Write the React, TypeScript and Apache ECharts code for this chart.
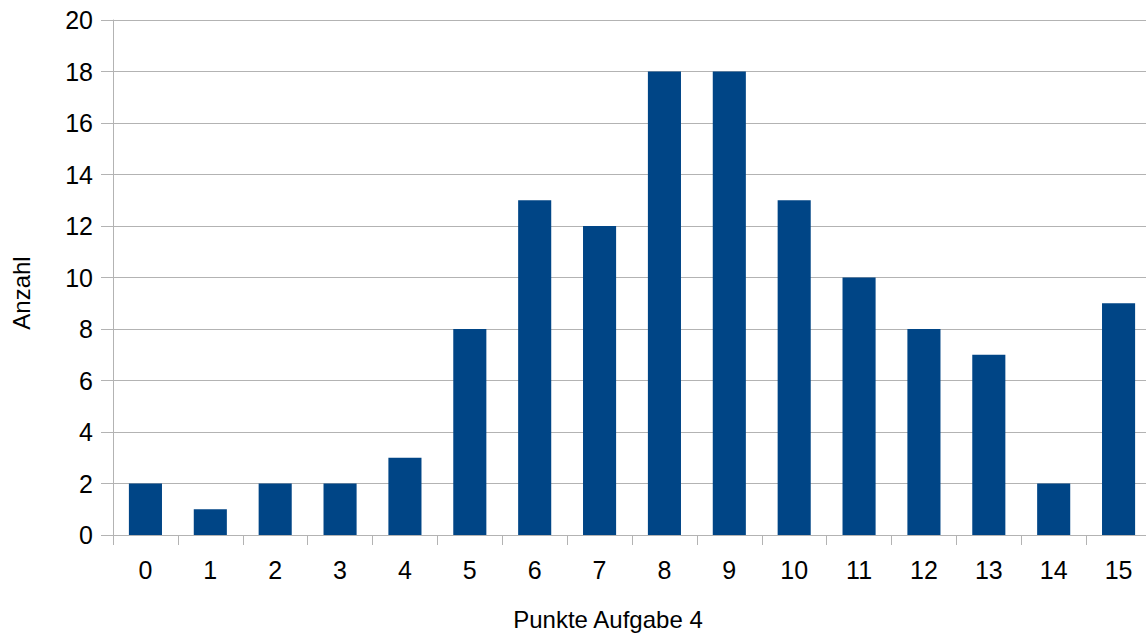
import React, { useEffect, useRef } from "react";
import * as echarts from "echarts";

const categories = ["0", "1", "2", "3", "4", "5", "6", "7", "8", "9", "10", "11", "12", "13", "14", "15"];
const counts = [2, 1, 2, 2, 3, 8, 13, 12, 18, 18, 13, 10, 8, 7, 2, 9];
const xTitle = "Punkte Aufgabe 4";
const yTitle = "Anzahl";

export default function App() {
  const ref = useRef<HTMLDivElement>(null);
  useEffect(() => {
    if (!ref.current) return;
    const chart = echarts.init(ref.current, null, { renderer: "svg" });
    const gray = "#b3b3b3";
    chart.setOption({
      animation: false,
      backgroundColor: "#ffffff",
      textStyle: { fontFamily: "Liberation Sans" },
      grid: { left: 113, right: 0, top: 20, bottom: 101 },
      xAxis: {
        type: "category",
        data: categories,
        axisLine: { show: true, lineStyle: { color: gray, width: 1 } },
        axisTick: { show: true, length: 10, lineStyle: { color: gray }, alignWithLabel: false },
        axisLabel: { color: "#000", fontSize: 25, margin: 22, fontFamily: "Liberation Sans" },
        splitLine: { show: false },
      },
      yAxis: {
        type: "value",
        min: 0,
        max: 20,
        interval: 2,
        axisLine: { show: true, lineStyle: { color: gray, width: 1 } },
        axisTick: { show: true, length: 12, lineStyle: { color: gray } },
        axisLabel: { color: "#000", fontSize: 25, margin: 20, fontFamily: "Liberation Sans" },
        splitLine: { show: true, lineStyle: { color: gray, width: 1 } },
      },
      series: [
        {
          type: "bar",
          data: counts,
          barCategoryGap: "49%",
          itemStyle: { color: "#004586" },
        },
      ],
      graphic: [
        {
          type: "text",
          x: 608,
          y: 619,
          style: {
            text: xTitle,
            fontSize: 24,
            fontFamily: "Liberation Sans",
            fill: "#000",
            align: "center",
            verticalAlign: "middle",
          },
        },
        {
          type: "text",
          x: 21,
          y: 293,
          rotation: Math.PI / 2,
          style: {
            text: yTitle,
            fontSize: 24,
            fontFamily: "Liberation Sans",
            fill: "#000",
            align: "center",
            verticalAlign: "middle",
          },
        },
      ],
    });
    return () => chart.dispose();
  }, []);
  return (
    <div
      style={{
        position: "fixed",
        left: 0,
        top: 0,
        width: 1146,
        height: 636,
        overflow: "hidden",
        background: "#fff",
      }}
    >
      <div ref={ref} style={{ width: 1151, height: 636 }} />
    </div>
  );
}
